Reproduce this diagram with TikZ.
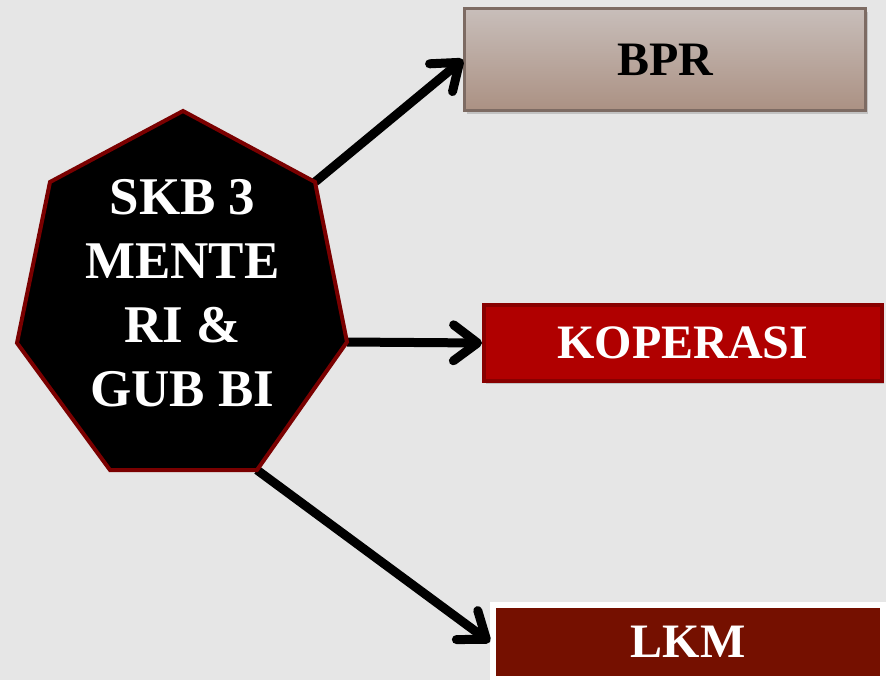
\documentclass[tikz,border=0pt]{standalone}
\usepackage{fontspec}
\setmainfont{Liberation Serif}
\usetikzlibrary{arrows.meta,shadows}
\definecolor{bgc}{HTML}{E6E6E6}
\definecolor{heptborder}{HTML}{7A0000}
\definecolor{bprtop}{HTML}{C8BEBA}
\definecolor{bprbot}{HTML}{AB9183}
\definecolor{bprborder}{HTML}{7D6B63}
\definecolor{kopfill}{HTML}{B00000}
\definecolor{kopborder}{HTML}{880000}
\definecolor{lkmfill}{HTML}{751000}
\tikzset{
  conn/.style={line width=9pt,black,-{Straight Barb[length=24pt,width=36pt,round]}},
  boxlabel/.style={font=\fontsize{48}{56}\selectfont\bfseries,inner sep=0pt,align=center},
  shad/.style={drop shadow={opacity=0.35,shadow xshift=2pt,shadow yshift=-3pt}}
}
\begin{document}
\begin{tikzpicture}[x=1pt,y=-1pt]
\useasboundingbox (0,0) rectangle (886,680);
\fill[bgc] (0,0) rectangle (886,680);
% heptagon vertices
\coordinate (v1) at (183,111);
\coordinate (v2) at (315,182);
\coordinate (v3) at (347,342);
\coordinate (v4) at (257,470);
\coordinate (v5) at (110,470);
\coordinate (v6) at (17,343);
\coordinate (v7) at (50,182);
% boxes
\node[boxlabel,shad,minimum width=401pt,minimum height=102pt,draw=bprborder,line width=3pt,
  top color=bprtop,bottom color=bprbot,text=black] (bpr) at (665,59.5) {BPR};
\node[boxlabel,shad,minimum width=398pt,minimum height=76pt,draw=kopborder,line width=4pt,
  fill=kopfill,text=white] (kop) at (683,343) {KOPERASI};
\node[boxlabel,minimum width=390pt,minimum height=74pt,draw=white,line width=6pt,
  fill=lkmfill,text=white] (lkm) at (688,642) {LKM};
% connectors
\draw[conn] (v2) -- (bpr.west);
\draw[conn] (v3) -- (kop.west);
\draw[conn] (v4) -- (lkm.west);
% heptagon
\filldraw[fill=black,draw=heptborder,line width=4pt,line join=miter]
  (v1) -- (v2) -- (v3) -- (v4) -- (v5) -- (v6) -- (v7) -- cycle;
\node[font=\fontsize{53}{64}\selectfont\bfseries,text=white,align=center,inner sep=0pt] (skb) at (182.5,293)
  {SKB 3\\MENTE\\RI \&\\GUB BI};
\end{tikzpicture}
\end{document}
